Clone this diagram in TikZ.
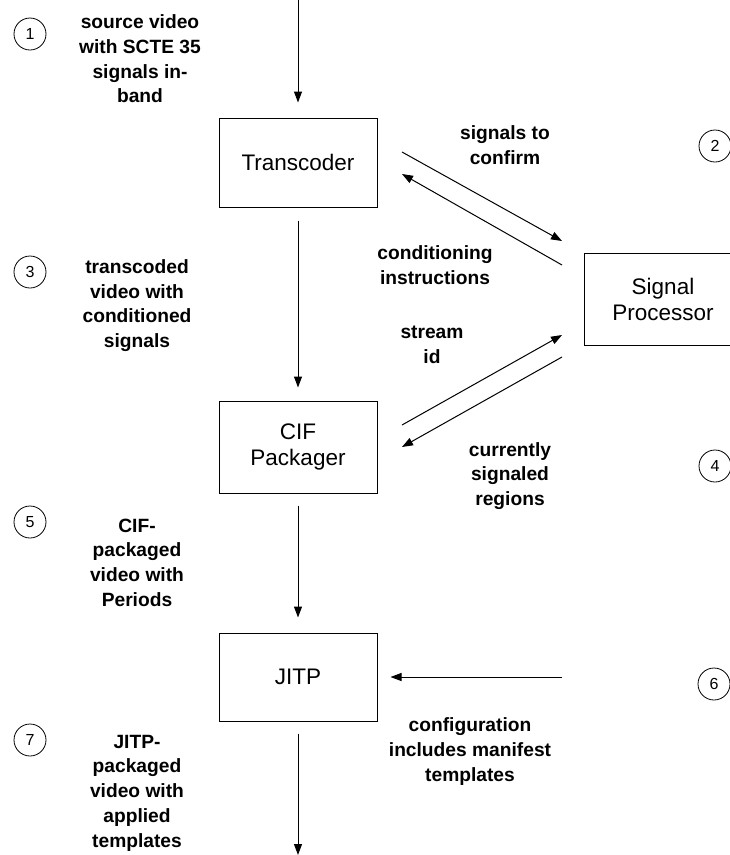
\documentclass[tikz,border=0pt]{standalone}
\usepackage{fontspec}
\setmainfont{Liberation Sans}
\usetikzlibrary{arrows.meta}
\begin{document}
\begin{tikzpicture}[x=1pt,y=-1pt,
  box/.style={draw,line width=1pt,minimum width=158pt,align=center,
    font=\fontsize{22.5}{26}\selectfont},
  lbl/.style={align=center,font=\bfseries\fontsize{19.2}{24.7}\selectfont},
  num/.style={draw,circle,line width=0.8pt,minimum size=32pt,inner sep=0pt,
    font=\fontsize{16}{16}\selectfont},
  flow/.style={line width=1pt,-{Triangle[length=11pt,width=8pt]}}]
\useasboundingbox (0,0) rectangle (730,855);

% processing stages
\node[box,minimum height=89pt] (tc) at (298,162.5) {Transcoder};
\node[box,minimum height=92pt] (cif) at (298,447) {CIF\\Packager};
\node[box,minimum height=88pt] (jitp) at (298,677) {JITP};
\node[box,minimum height=92pt] (sp) at (663,299.5) {Signal\\Processor};

% step markers
\node[num] (n1) at (30,34) {1};
\node[num] (n2) at (715,146) {2};
\node[num] (n3) at (30,272) {3};
\node[num] (n4) at (715,466) {4};
\node[num] (n5) at (30,522) {5};
\node[num] (n6) at (714,684) {6};
\node[num] (n7) at (30,740) {7};

% descriptions
\node[lbl] (l1) at (140,59) {source video\\with SCTE 35\\signals in-\\band};
\node[lbl] (l2) at (505,145) {signals to\\confirm};
\node[lbl] (l3) at (137,305.5) {transcoded\\video with\\conditioned\\signals};
\node[lbl] (l4) at (435,265) {conditioning\\instructions};
\node[lbl] (l5) at (432,345) {stream\\id};
\node[lbl] (l6) at (510,476) {currently\\signaled\\regions};
\node[lbl] (l7) at (137,562.5) {CIF-\\packaged\\video with\\Periods};
\node[lbl] (l8) at (470,751.5) {configuration\\includes manifest\\templates};
\node[lbl] (l9) at (137,793) {JITP-\\packaged\\video with\\applied\\templates};

% connector end points
\coordinate (src) at (298,0);
\coordinate (out) at (298,855);
\coordinate (cfg) at (562,677);
\coordinate (a1) at (402,152);
\coordinate (b1) at (562,241);
\coordinate (a2) at (562,265);
\coordinate (b2) at (402,174);
\coordinate (a3) at (402,425);
\coordinate (b3) at (562,335);
\coordinate (a4) at (562,357);
\coordinate (b4) at (402,447);

% video path
\draw[flow,shorten >=15pt] (src) -- (tc.north);
\draw[flow,shorten <=13pt,shorten >=13pt] (tc.south) -- (cif.north);
\draw[flow,shorten <=12pt,shorten >=15pt] (cif.south) -- (jitp.north);
\draw[flow,shorten <=12pt] (jitp.south) -- (out);
\draw[flow,shorten >=13pt] (cfg) -- (jitp.east);

% exchanges with the signal processor
\draw[flow] (a1) -- (b1);
\draw[flow] (a2) -- (b2);
\draw[flow] (a3) -- (b3);
\draw[flow] (a4) -- (b4);
\end{tikzpicture}
\end{document}
